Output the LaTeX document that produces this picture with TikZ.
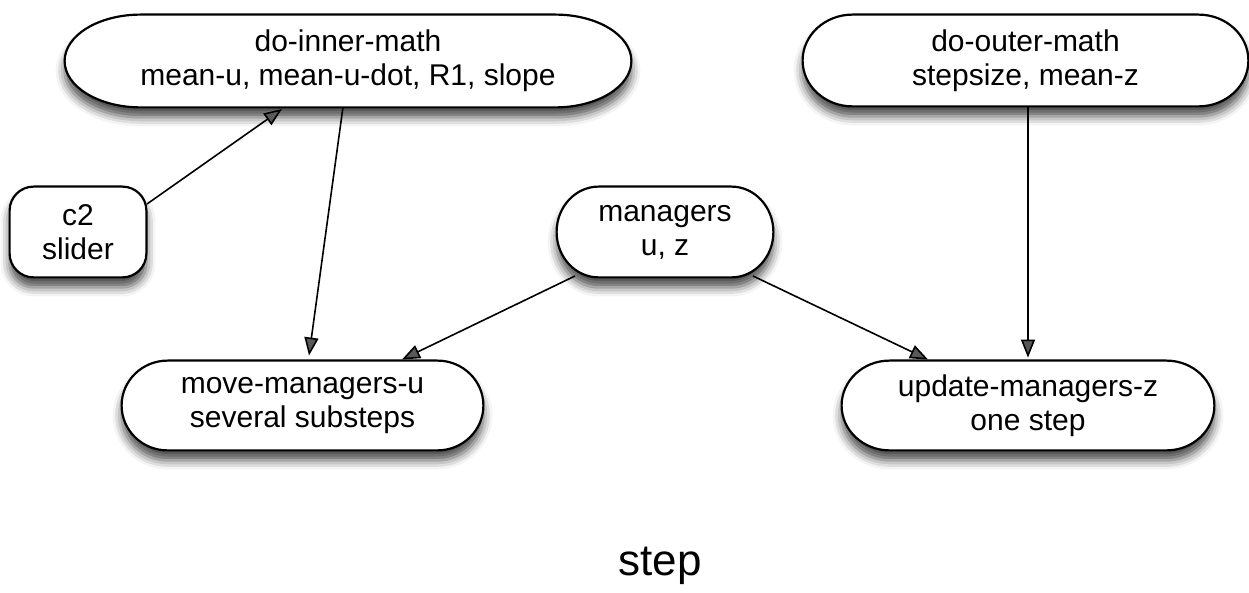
\documentclass[tikz,border=0pt]{standalone}
\usepackage{fontspec}
\setmainfont{Liberation Sans}
\usetikzlibrary{calc,arrows.meta,shadows.blur}
\pgfdeclarelayer{bg}
\pgfsetlayers{bg,main}

\tikzset{
  lbl/.style={font=\fontsize{15}{17}\selectfont, align=center, inner sep=0pt},
  box/.style={draw=black, line width=1.1pt, fill=white,
    blur shadow={shadow xshift=0pt, shadow yshift=-5pt,
                 shadow blur radius=4.5pt, shadow opacity=70}},
  arr/.style={line width=0.8pt, -{Triangle[length=9pt,width=7pt]}},
}

% capsule outline around a node: flat top and bottom, half-elliptic ends
\newcommand\capsule[2]{%
  \path[box] let \p1=(#1.north west), \p2=(#1.south east), \n1={(\y1-\y2)/2} in
    (\x1+#2,\y1) -- (\x2-#2,\y1)
    arc[start angle=90, end angle=-90, x radius=#2, y radius=\n1]
    -- (\x1+#2,\y2)
    arc[start angle=-90, end angle=-270, x radius=#2, y radius=\n1] -- cycle;}

\begin{document}
\begin{tikzpicture}[x=0.5pt, y=-0.5pt]
  \useasboundingbox (0,0) rectangle (1249,593);

  % nodes
  \node[lbl, minimum width=283pt, minimum height=46pt] (inner) at (348,61)
    {do-inner-math\\mean-u, mean-u-dot, R1, slope};
  \node[lbl, minimum width=222.5pt, minimum height=45.5pt] (outer) at (1025.5,60.5)
    {do-outer-math\\stepsize, mean-z};
  \node[lbl, minimum width=68pt, minimum height=45pt] (c2) at (78,232)
    {c2\\slider};
  \node[lbl, minimum width=108pt, minimum height=45pt] (mgr) at (665,232)
    {managers\\u, z};
  \node[lbl, minimum width=180.5pt, minimum height=44.5pt] (move) at (302.5,405.5)
    {move-managers-u\\several substeps};
  \node[lbl, minimum width=186pt, minimum height=44.5pt] (update) at (1028,405.5)
    {update-managers-z\\one step};
  \node[font=\fontsize{22}{26}\selectfont, inner sep=0pt] (title) at (660,566) {step};

  % outlines with drop shadows, behind the labels
  \begin{pgfonlayer}{bg}
    \capsule{inner}{38pt}
    \capsule{outer}{25pt}
    \capsule{mgr}{21pt}
    \capsule{move}{23pt}
    \capsule{update}{24pt}
    \path[box, rounded corners=12pt] (c2.north west) rectangle (c2.south east);
  \end{pgfonlayer}

  % connectors
  \draw[arr] ($(c2.center)+(69,-28)$) -- ($(inner.center)+(-66,48)$);
  \draw[arr] ($(inner.center)+(-5,46)$) -- ($(move.center)+(6.5,-50)$);
  \draw[arr] ($(mgr.center)+(-90,44)$) -- ($(move.center)+(99.5,-46)$);
  \draw[arr] ($(mgr.center)+(88,44)$) -- ($(update.center)+(-100,-46)$);
  \draw[arr] ($(outer.south)+(2.5,0)$) -- ($(update.north)+(0,-3)$);
\end{tikzpicture}
\end{document}
